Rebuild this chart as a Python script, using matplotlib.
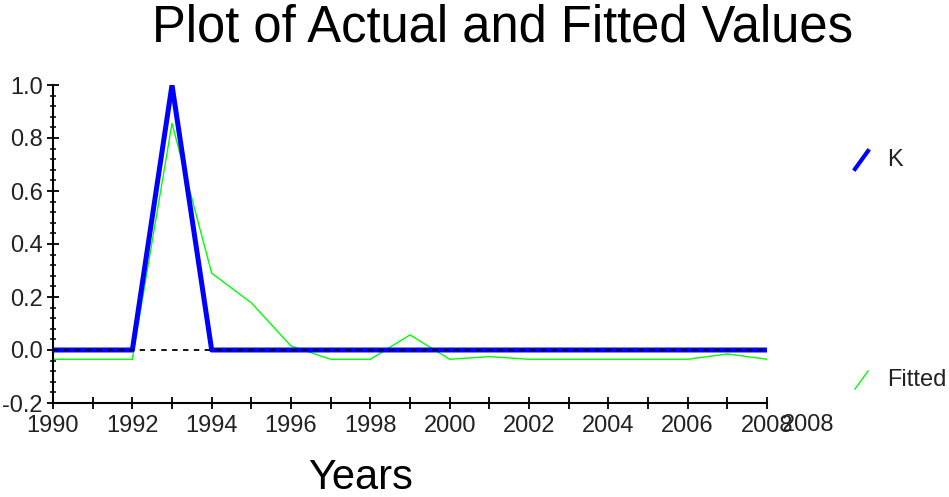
"""Plot of actual and fitted values (K vs fitted)."""

import matplotlib

matplotlib.use("Agg")
import matplotlib.pyplot as plt  # noqa: E402
from matplotlib.lines import Line2D  # noqa: E402
from matplotlib.ticker import MultipleLocator  # noqa: E402

plt.rcParams["font.family"] = ["Liberation Sans", "DejaVu Sans"]

years = list(range(1990, 2009))
actual_k = [0, 0, 0, 1.0, 0, 0, 0, 0, 0, 0, 0, 0, 0, 0, 0, 0, 0, 0, 0]
fitted = [-0.035, -0.035, -0.035, 0.855, 0.29, 0.178, 0.015, -0.035, -0.035,
          0.057, -0.035, -0.025, -0.035, -0.035, -0.035, -0.035, -0.035,
          -0.015, -0.035]
series_names = ["K", "Fitted"]
x_ticks = list(range(1990, 2009, 2))
y_ticks = [-0.2, 0.0, 0.2, 0.4, 0.6, 0.8, 1.0]


def main():
    fig = plt.figure(figsize=(9.49, 4.97), dpi=100)
    ax = fig.add_axes([53 / 949, 1 - 403 / 497, (767 - 53) / 949, (403 - 85) / 497])

    ax.plot(years, fitted, color="#00ff00", lw=1.0, zorder=2)
    ax.plot(years, actual_k, color="#0000ff", lw=3.6, zorder=3,
            solid_capstyle="butt")
    ax.plot([years[0], years[-1]], [0, 0], color="black", lw=1.3,
            dashes=(3, 3), zorder=4)

    ax.set_xlim(1990, 2008)
    ax.set_ylim(-0.2, 1.0)
    ax.set_xticks(x_ticks)
    ax.xaxis.set_minor_locator(MultipleLocator(1))
    ax.set_yticks(y_ticks)
    ax.set_yticklabels([f"{v:.1f}" for v in y_ticks])
    ax.yaxis.set_minor_locator(MultipleLocator(0.04))

    for s in ("top", "right"):
        ax.spines[s].set_visible(False)
    for s in ("left", "bottom"):
        ax.spines[s].set_linewidth(1.5)

    ax.tick_params(axis="both", which="major", direction="inout", length=9,
                   width=1.3, labelsize=17, labelcolor="#222222")
    ax.tick_params(axis="y", which="minor", direction="inout", length=5,
                   width=1.1)
    ax.tick_params(axis="x", which="minor", direction="inout", length=9,
                   width=1.3)
    ax.tick_params(axis="x", which="major", pad=4)
    ax.tick_params(axis="y", which="major", pad=3)

    # duplicated end label seen in the original
    ax.annotate("2008", xy=(1, 0), xycoords="axes fraction",
                xytext=(11, -8), textcoords="offset points",
                ha="left", va="top", fontsize=17, color="#222222")

    fig.text(503 / 949, 1 - 28 / 497, "Plot of Actual and Fitted Values",
             ha="center", va="center", fontsize=36.5)
    fig.text(361 / 949, 1 - 478 / 497, "Years", ha="center", va="center",
             fontsize=30)

    # legend entries placed apart as in the source
    colors = ["#0000ff", "#00ff00"]
    widths = [3.0, 1.0]
    ys = [160, 380]
    for name, c, w, y in zip(series_names, colors, widths, ys):
        fig.add_artist(Line2D([855 / 949, 868 / 949],
                              [1 - (y + 9) / 497, 1 - (y - 9) / 497],
                              color=c, lw=w, transform=fig.transFigure))
        fig.text(887 / 949, 1 - y / 497, name, ha="left", va="center",
                 fontsize=17, color="#222222")

    fig.savefig("out.png", dpi=100)
    plt.close(fig)


if __name__ == "__main__":
    main()
